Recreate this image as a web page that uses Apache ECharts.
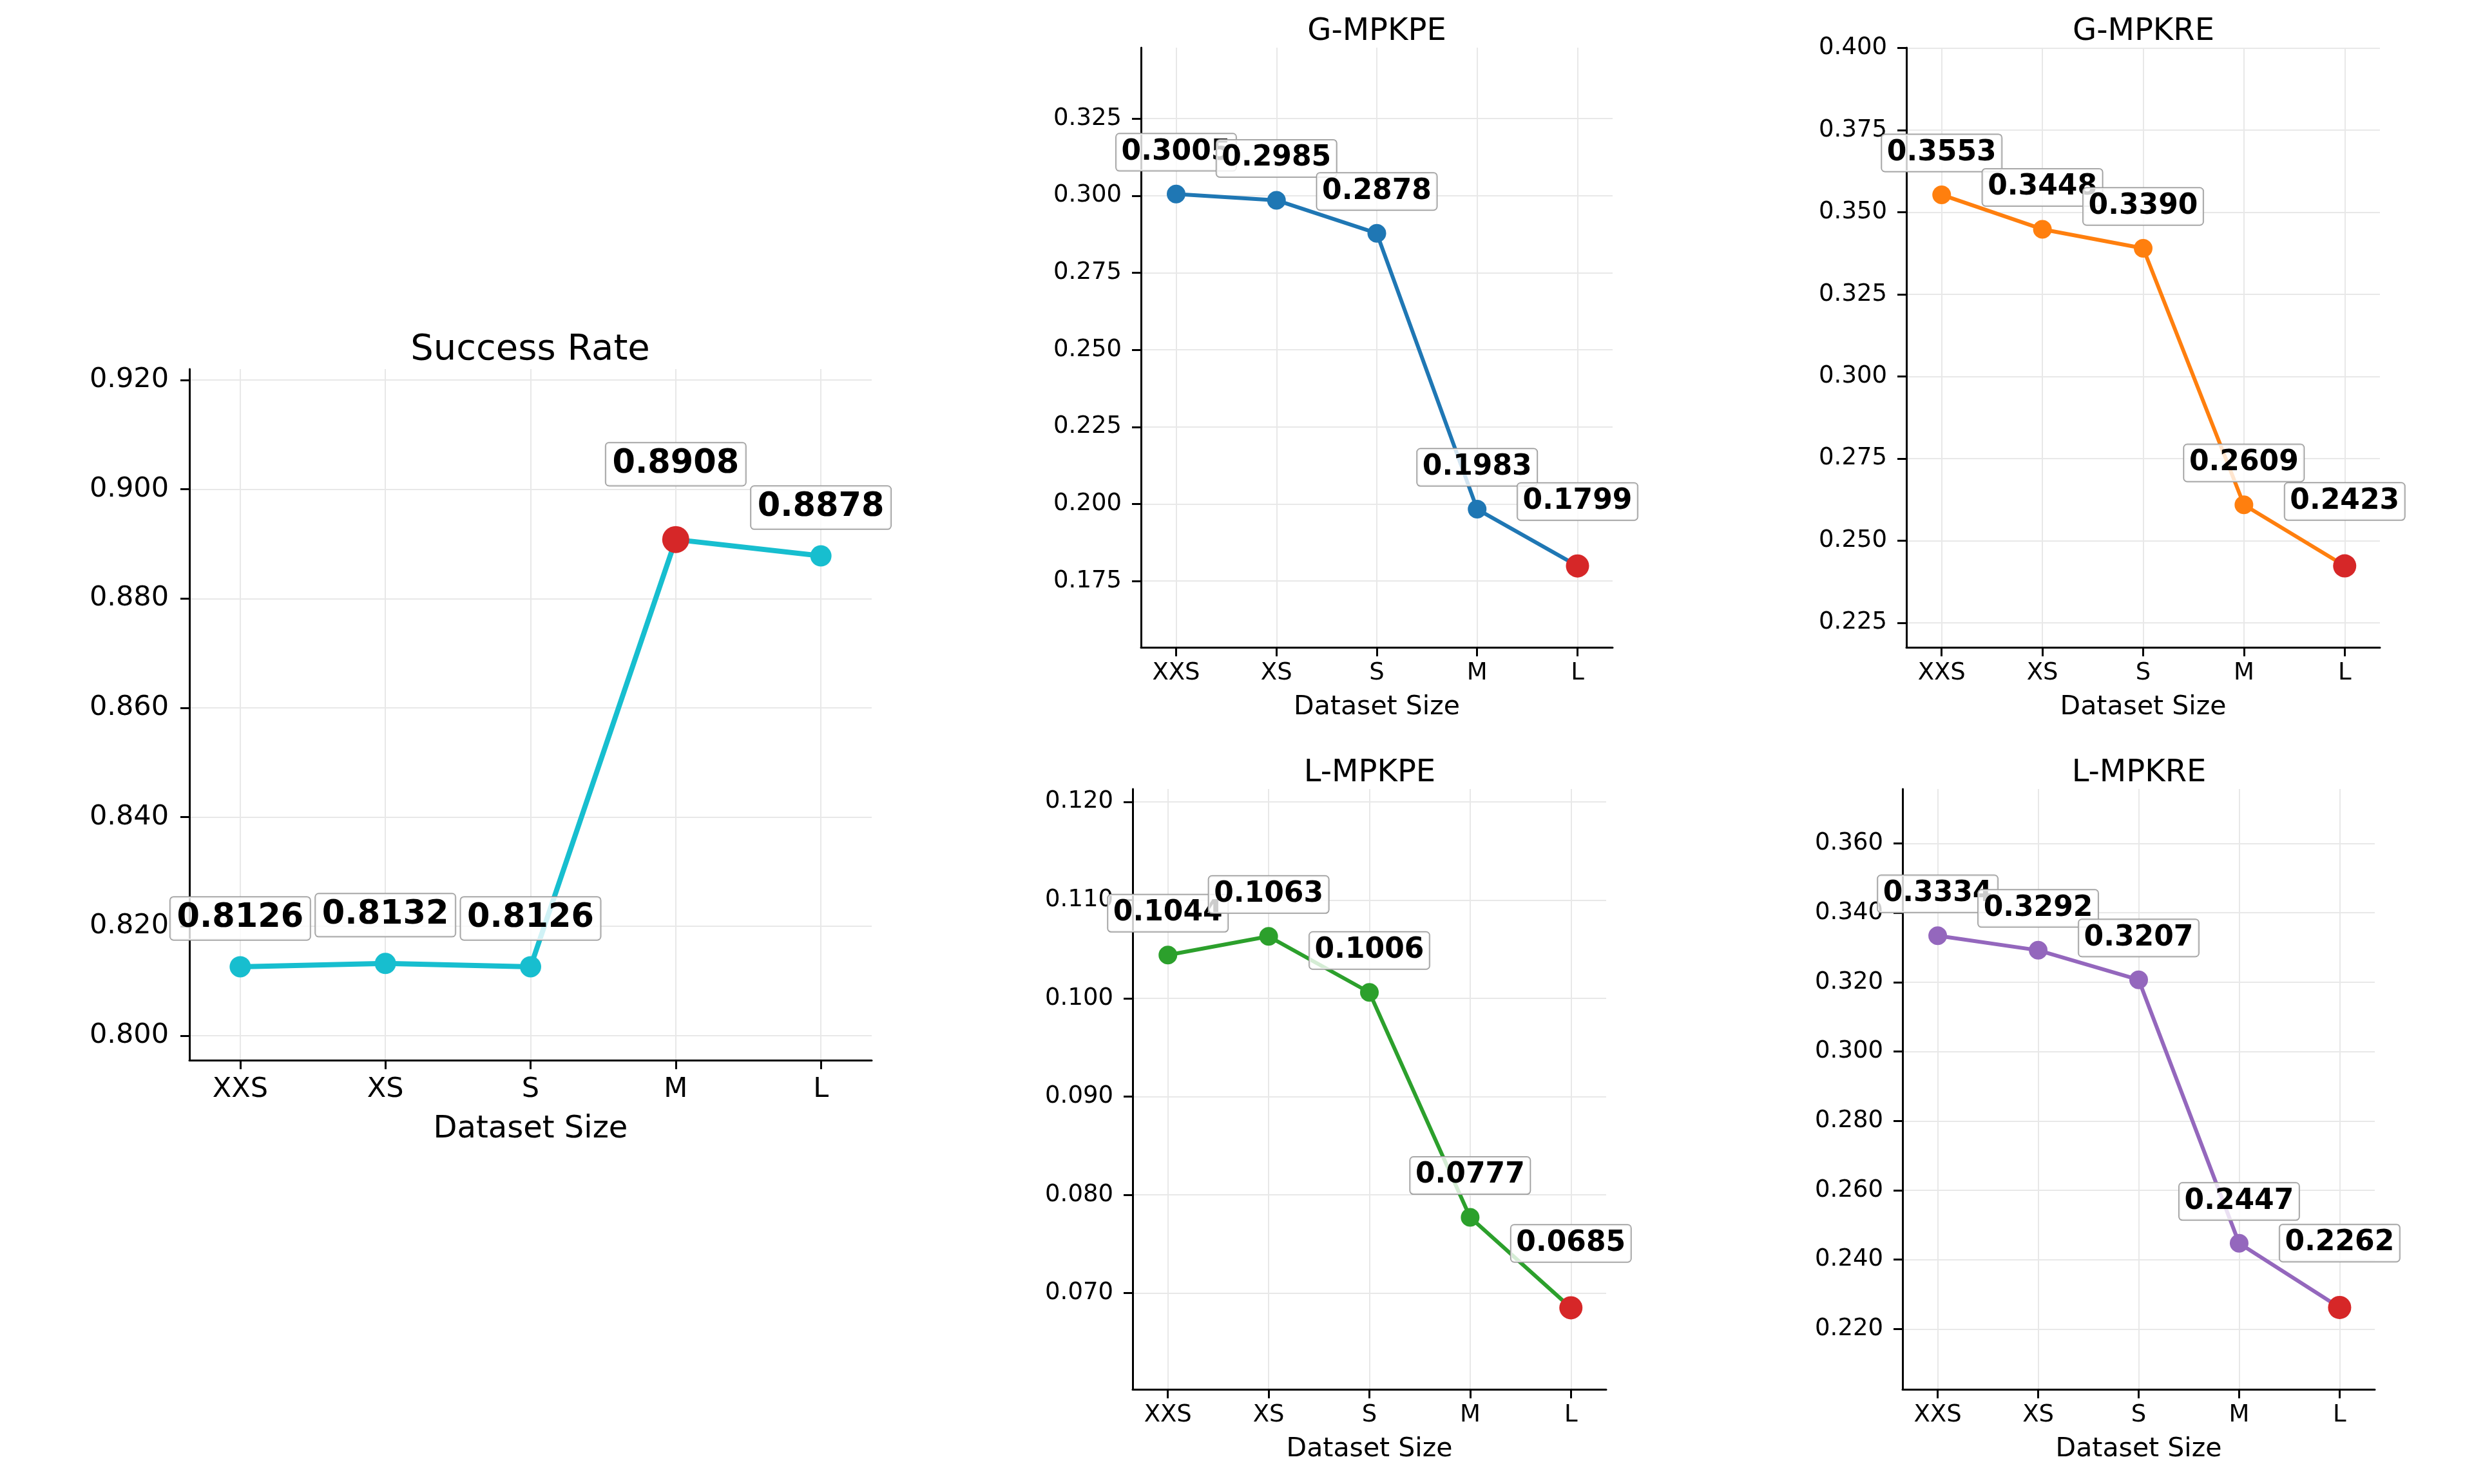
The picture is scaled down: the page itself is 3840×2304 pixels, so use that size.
<!DOCTYPE html>
<html>
<head>
<meta charset="utf-8">
<script src="https://cdn.jsdelivr.net/npm/echarts@6/dist/echarts.min.js"></script>
<style>
html, body { margin: 0; padding: 0; background: #fff; }
#main { width: 3840px; height: 2304px; }
</style>
</head>
<body>
<div id="main"></div>
<script>
var sizes = ['XXS', 'XS', 'S', 'M', 'L'];

var successRate = [0.8126, 0.8132, 0.8126, 0.8908, 0.8878];
var gMpkpe = [0.3005, 0.2985, 0.2878, 0.1983, 0.1799];
var gMpkre = [0.3553, 0.3448, 0.3390, 0.2609, 0.2423];
var lMpkpe = [0.1044, 0.1063, 0.1006, 0.0777, 0.0685];
var lMpkre = [0.3334, 0.3292, 0.3207, 0.2447, 0.2262];

var successTicks = [0.800, 0.820, 0.840, 0.860, 0.880, 0.900, 0.920];
var gMpkpeTicks = [0.175, 0.200, 0.225, 0.250, 0.275, 0.300, 0.325];
var gMpkreTicks = [0.225, 0.250, 0.275, 0.300, 0.325, 0.350, 0.375, 0.400];
var lMpkpeTicks = [0.070, 0.080, 0.090, 0.100, 0.110, 0.120];
var lMpkreTicks = [0.220, 0.240, 0.260, 0.280, 0.300, 0.320, 0.340, 0.360];

var font = 'DejaVu Sans';
var bestColor = '#d62728';

// one entry per subplot
var panels = [
	{title: 'Success Rate', data: successRate, ticks: successTicks, ylim: [0.7955, 0.922], color: '#17becf', best: 'max', big: true,
		grid: {left: 294, top: 573, width: 1059, height: 1073}, titleX: 823, titleY: 515},
	{title: 'G-MPKPE', data: gMpkpe, ticks: gMpkpeTicks, ylim: [0.1535, 0.348], color: '#1f77b4', best: 'min', big: false,
		grid: {left: 1771, top: 74, width: 732, height: 931}, titleX: 2137, titleY: 26},
	{title: 'G-MPKRE', data: gMpkre, ticks: gMpkreTicks, ylim: [0.2175, 0.4001], color: '#ff7f0e', best: 'min', big: false,
		grid: {left: 2959, top: 74, width: 735, height: 931}, titleX: 3327, titleY: 26},
	{title: 'L-MPKPE', data: lMpkpe, ticks: lMpkpeTicks, ylim: [0.0602, 0.1213], color: '#2ca02c', best: 'min', big: false,
		grid: {left: 1758, top: 1225, width: 735, height: 932}, titleX: 2126, titleY: 1177},
	{title: 'L-MPKRE', data: lMpkre, ticks: lMpkreTicks, ylim: [0.2026, 0.3757], color: '#9467bd', best: 'min', big: false,
		grid: {left: 2953, top: 1225, width: 733, height: 932}, titleX: 3320, titleY: 1177}
];

var xIdx = sizes.map(function (s, i) { return i; });

var grids = [], xAxes = [], yAxes = [], series = [], graphics = [];

panels.forEach(function (p, k) {
	var big = p.big;
	var bestVal = p.best === 'max' ? Math.max.apply(null, p.data) : Math.min.apply(null, p.data);
	var bestIdx = p.data.indexOf(bestVal);

	grids.push({left: p.grid.left, top: p.grid.top, width: p.grid.width, height: p.grid.height, containLabel: false});

	xAxes.push({
		type: 'value', gridIndex: k, min: -0.35, max: 4.35,
		name: 'Dataset Size', nameLocation: 'middle', nameGap: big ? 84 : 73,
		nameTextStyle: {fontFamily: font, fontSize: big ? 48 : 41, color: '#000'},
		axisLine: {show: true, onZero: false, lineStyle: {color: '#000', width: 3}},
		axisTick: {show: true, customValues: xIdx, length: 14, lineStyle: {color: '#000', width: 3}},
		axisLabel: {customValues: xIdx, formatter: function (v) { return sizes[v]; },
			fontFamily: font, fontSize: big ? 43 : 37, color: '#000', margin: big ? 24 : 22},
		splitLine: {show: true, lineStyle: {color: '#e8e8e8', width: 2}}
	});

	yAxes.push({
		type: 'value', gridIndex: k, min: p.ylim[0], max: p.ylim[1],
		axisLine: {show: true, onZero: false, lineStyle: {color: '#000', width: 3}},
		axisTick: {show: true, customValues: p.ticks, length: 14, lineStyle: {color: '#000', width: 3}},
		axisLabel: {customValues: p.ticks, formatter: function (v) { return v.toFixed(3); },
			fontFamily: font, fontSize: big ? 43 : 37, color: '#000', margin: big ? 32 : 30},
		splitLine: {show: true, lineStyle: {color: '#e8e8e8', width: 2}}
	});

	var pts = p.data.map(function (v, i) {
		var isBest = i === bestIdx;
		return {
			value: [i, v],
			symbolSize: isBest ? (big ? 42 : 36) : (big ? 33 : 29),
			itemStyle: {color: isBest ? bestColor : p.color},
			label: {offset: [0, isBest ? (big ? -117 : -100) : (big ? -75 : -65)]}
		};
	});

	series.push({
		type: 'line', xAxisIndex: k, yAxisIndex: k,
		data: pts, symbol: 'circle',
		lineStyle: {color: p.color, width: big ? 8 : 6},
		itemStyle: {color: p.color},
		label: {
			show: true, position: 'inside',
			formatter: function (q) { return q.value[1].toFixed(4); },
			fontFamily: font, fontWeight: 'bold', color: '#000',
			fontSize: big ? 51 : 44, lineHeight: big ? 56 : 47,
			backgroundColor: 'rgba(255,255,255,0.8)', borderColor: '#999', borderWidth: 1.5,
			borderRadius: 5, padding: big ? [5, 10] : [5, 8]
		},
		emphasis: {disabled: true},
		silent: true, z: 3
	});

	graphics.push({
		type: 'text', x: p.titleX, y: p.titleY,
		style: {text: p.title, fontFamily: font, fontSize: big ? 56 : 48, fill: '#000',
			align: 'center', verticalAlign: 'top', textAlign: 'center', textVerticalAlign: 'top'}
	});
});

var myChart = echarts.init(document.getElementById('main'));
myChart.setOption({
	animation: false,
	backgroundColor: '#fff',
	grid: grids,
	xAxis: xAxes,
	yAxis: yAxes,
	series: series,
	graphic: graphics
});
</script>
</body>
</html>
